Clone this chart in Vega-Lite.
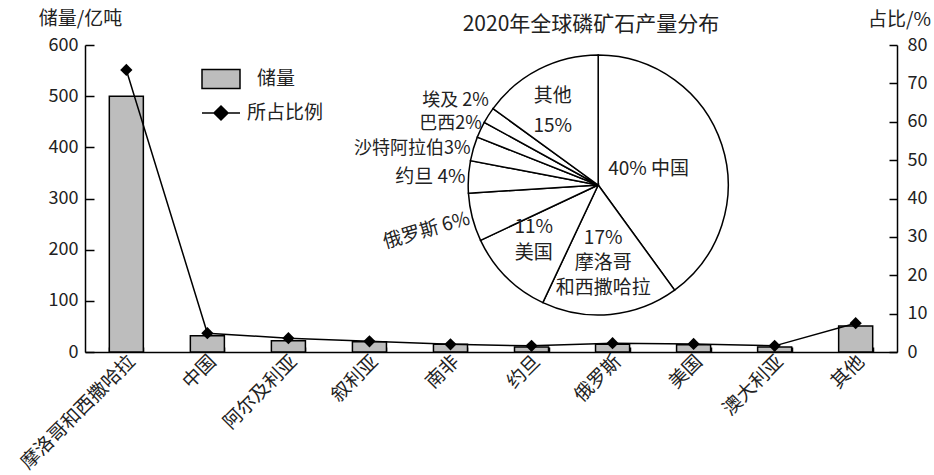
{
  "$schema": "https://vega.github.io/schema/vega-lite/v6.json",
  "width": 812,
  "height": 307,
  "autosize": {"type": "none"},
  "padding": {"left": 85, "top": 45, "right": 37, "bottom": 123},
  "background": "white",
  "config": {
    "view": {"stroke": null},
    "font": "Noto Sans CJK SC",
    "axis": {
      "domainColor": "black",
      "domainWidth": 1.5,
      "tickColor": "black",
      "tickWidth": 1.5,
      "labelColor": "#222",
      "labelFont": "Noto Sans CJK SC",
      "labelFontSize": 18,
      "titleFont": "Noto Sans CJK SC",
      "titleFontSize": 19,
      "titleFontWeight": "normal",
      "titleColor": "#222",
      "grid": false
    },
    "legend": {"labelFont": "Noto Sans CJK SC", "labelFontSize": 19, "labelColor": "#222"}
  },
  "title": {
    "text": "2020年全球磷矿石产量分布",
    "anchor": "middle",
    "frame": "group",
    "dx": 100,
    "dy": 30,
    "fontSize": 21,
    "fontWeight": "normal",
    "color": "#222",
    "font": "Noto Sans CJK SC"
  },
  "datasets": {
    "reserves": [
      {"country": "摩洛哥和西撒哈拉", "reserve": 500, "pct": 73.5},
      {"country": "中国", "reserve": 32, "pct": 4.9},
      {"country": "阿尔及利亚", "reserve": 22, "pct": 3.6},
      {"country": "叙利亚", "reserve": 20, "pct": 2.8},
      {"country": "南非", "reserve": 15, "pct": 2.0},
      {"country": "约旦", "reserve": 10, "pct": 1.6},
      {"country": "俄罗斯", "reserve": 15, "pct": 2.3},
      {"country": "美国", "reserve": 14, "pct": 2.1},
      {"country": "澳大利亚", "reserve": 10, "pct": 1.6},
      {"country": "其他", "reserve": 51, "pct": 7.5}
    ],
    "production": [
      {"region": "中国", "share": 40, "label": "40%  中国"},
      {"region": "摩洛哥和西撒哈拉", "share": 17, "label": "17%\n摩洛哥\n和西撒哈拉"},
      {"region": "美国", "share": 11, "label": "11%\n美国"},
      {"region": "俄罗斯", "share": 6, "label": "俄罗斯 6%"},
      {"region": "约旦", "share": 4, "label": "约旦 4%"},
      {"region": "沙特阿拉伯", "share": 3, "label": "沙特阿拉伯3%"},
      {"region": "巴西", "share": 2, "label": "巴西2%"},
      {"region": "埃及", "share": 2, "label": "埃及 2%"},
      {"region": "其他", "share": 15, "label": "其他\n15%"}
    ]
  },
  "layer": [
    {
      "data": {"name": "reserves"},
      "mark": {"type": "bar", "stroke": "black", "strokeWidth": 1.5},
      "encoding": {
        "x": {
          "field": "country",
          "type": "nominal",
          "sort": null,
          "title": null,
          "scale": {"paddingInner": 0.58, "paddingOuter": 0.3},
          "axis": {
            "tickSize": -5,
            "tickBand": "extent",
            "labelAngle": -45,
            "labelAlign": "right",
            "labelBaseline": "middle",
            "labelPadding": 11,
            "labelOffset": 5,
            "labelFontSize": 19
          }
        },
        "y": {
          "field": "reserve",
          "type": "quantitative",
          "scale": {"domain": [0, 600]},
          "axis": {
            "orient": "left",
            "values": [0, 100, 200, 300, 400, 500, 600],
            "tickSize": -9,
            "labelPadding": 16,
            "title": "储量/亿吨",
            "titleAngle": 0,
            "titleX": -5,
            "titleY": -27,
            "titleAlign": "center",
            "titleBaseline": "middle"
          }
        },
        "fill": {
          "datum": "储量",
          "scale": {"range": ["#bdbdbd"]},
          "legend": {
            "orient": "none",
            "legendX": 116,
            "legendY": 14,
            "title": null,
            "padding": 0,
            "symbolType": "M-1,-0.5H1V0.5H-1Z",
            "symbolSize": 1444,
            "labelOffset": 16,
            "encode": {"symbols": {"update": {"stroke": {"value": "black"}, "strokeWidth": {"value": 1.5}, "fill": {"value": "#bdbdbd"}}}}
          }
        }
      }
    },
    {
      "data": {"name": "reserves"},
      "mark": {"type": "line", "strokeWidth": 1.5},
      "encoding": {
        "x": {"field": "country", "type": "nominal", "sort": null},
        "y": {
          "field": "pct",
          "type": "quantitative",
          "scale": {"domain": [0, 80]},
          "axis": {
            "orient": "right",
            "values": [0, 10, 20, 30, 40, 50, 60, 70, 80],
            "tickSize": -8,
            "labelPadding": 18,
            "title": "占比/%",
            "titleAngle": 0,
            "titleX": 2,
            "titleY": -26,
            "titleAlign": "center",
            "titleBaseline": "middle"
          }
        },
        "stroke": {
          "datum": "所占比例",
          "scale": {"range": ["black"]},
          "legend": {
            "orient": "none",
            "legendX": 116,
            "legendY": 48,
            "title": null,
            "padding": 0,
            "symbolType": "M-1,0H1M0,-0.37L0.37,0L0,0.37L-0.37,0Z",
            "symbolSize": 1444,
            "labelOffset": 6,
            "encode": {"symbols": {"update": {"stroke": {"value": "black"}, "strokeWidth": {"value": 1.5}, "fill": {"value": "black"}}}}
          }
        }
      }
    },
    {
      "data": {"name": "reserves"},
      "mark": {"type": "point", "shape": "diamond", "filled": true, "size": 150, "color": "black", "opacity": 1},
      "encoding": {
        "x": {"field": "country", "type": "nominal", "sort": null},
        "y": {"field": "pct", "type": "quantitative", "scale": {"domain": [0, 80]}, "axis": null}
      }
    },
    {
      "data": {"name": "production"},
      "layer": [
        {
          "mark": {"type": "arc", "outerRadius": 130, "fill": "white", "stroke": "black", "strokeWidth": 1.5, "x": {"expr": "width*0.632"}, "y": {"expr": "height*0.456"}},
          "encoding": {
            "theta": {"field": "share", "type": "quantitative", "stack": true},
            "order": {"field": "idx", "type": "quantitative"}
          }
        },
        {
          "mark": {"type": "text", "radius": 53, "fontSize": 19, "lineBreak": "\n", "lineHeight": 25, "align": "center", "baseline": "middle", "color": "#222", "x": {"expr": "width*0.632"}, "y": {"expr": "height*0.456"}},
          "encoding": {
            "theta": {"field": "share", "type": "quantitative", "stack": true},
            "order": {"field": "idx", "type": "quantitative"},
            "text": {"condition": {"test": "indexof(['摩洛哥和西撒哈拉','中国'], datum.region) >= 0", "field": "label"}, "value": ""}
          }
        },
        {
          "mark": {"type": "text", "radius": 70, "dx": -15, "dy": -7, "fontSize": 19, "lineBreak": "\n", "lineHeight": 26, "align": "center", "baseline": "middle", "color": "#222", "x": {"expr": "width*0.632"}, "y": {"expr": "height*0.456"}},
          "encoding": {
            "theta": {"field": "share", "type": "quantitative", "stack": true},
            "order": {"field": "idx", "type": "quantitative"},
            "text": {"condition": {"test": "datum.region === '美国'", "field": "label"}, "value": ""}
          }
        },
        {
          "mark": {"type": "text", "radius": 100, "fontSize": 19, "lineBreak": "\n", "lineHeight": 30, "align": "center", "baseline": "middle", "color": "#222", "x": {"expr": "width*0.632"}, "y": {"expr": "height*0.456"}},
          "encoding": {
            "theta": {"field": "share", "type": "quantitative", "stack": true},
            "order": {"field": "idx", "type": "quantitative"},
            "text": {"condition": {"test": "datum.region === '其他'", "field": "label"}, "value": ""}
          }
        },
        {
          "mark": {"type": "text", "radius": 133, "fontSize": 19, "align": "right", "baseline": "middle", "color": "#222", "x": {"expr": "width*0.632"}, "y": {"expr": "height*0.456"}},
          "encoding": {
            "theta": {"field": "share", "type": "quantitative", "stack": true},
            "order": {"field": "idx", "type": "quantitative"},
            "text": {"condition": {"test": "indexof(['俄罗斯','约旦'], datum.region) >= 0", "field": "label"}, "value": ""},
            "angle": {"condition": {"test": "datum.region === '俄罗斯'", "value": -16}, "value": 0}
          }
        },
        {
          "mark": {"type": "text", "radius": 133, "dy": 1, "fontSize": 18, "align": "right", "baseline": "middle", "color": "#222", "x": {"expr": "width*0.632"}, "y": {"expr": "height*0.456"}},
          "encoding": {
            "theta": {"field": "share", "type": "quantitative", "stack": true},
            "order": {"field": "idx", "type": "quantitative"},
            "text": {"condition": {"test": "datum.region === '沙特阿拉伯'", "field": "label"}, "value": ""}
          }
        },
        {
          "mark": {"type": "text", "radius": 133, "dx": 4, "dy": -4, "fontSize": 18, "align": "right", "baseline": "middle", "color": "#222", "x": {"expr": "width*0.632"}, "y": {"expr": "height*0.456"}},
          "encoding": {
            "theta": {"field": "share", "type": "quantitative", "stack": true},
            "order": {"field": "idx", "type": "quantitative"},
            "text": {"condition": {"test": "datum.region === '巴西'", "field": "label"}, "value": ""}
          }
        },
        {
          "mark": {"type": "text", "radius": 133, "dx": 3, "dy": -13, "fontSize": 18, "align": "right", "baseline": "middle", "color": "#222", "x": {"expr": "width*0.632"}, "y": {"expr": "height*0.456"}},
          "encoding": {
            "theta": {"field": "share", "type": "quantitative", "stack": true},
            "order": {"field": "idx", "type": "quantitative"},
            "text": {"condition": {"test": "datum.region === '埃及'", "field": "label"}, "value": ""}
          }
        }
      ],
      "transform": [{"window": [{"op": "row_number", "as": "idx"}]}]
    }
  ],
  "resolve": {"scale": {"y": "independent"}}
}
